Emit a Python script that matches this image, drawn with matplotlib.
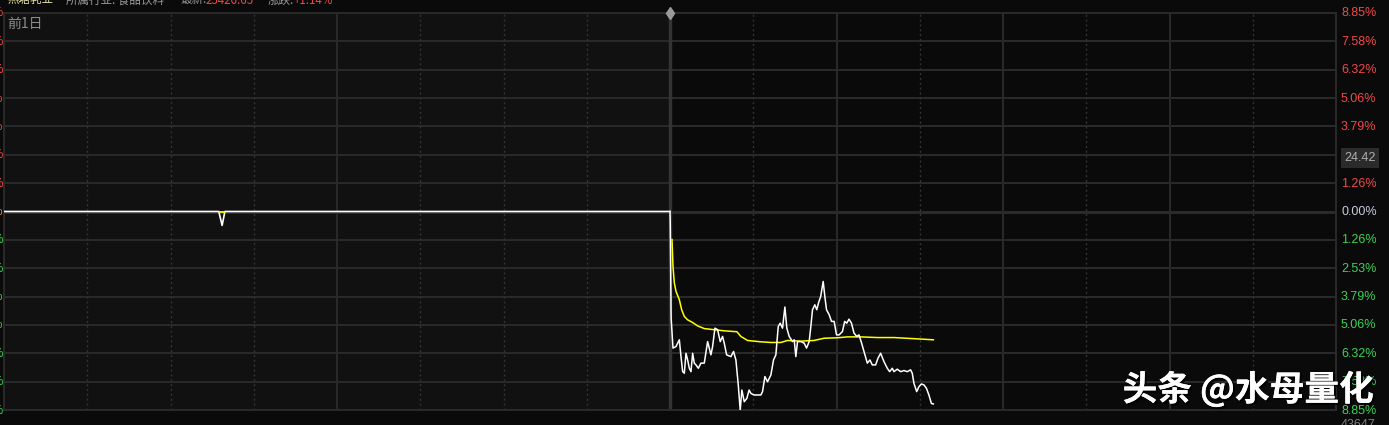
import matplotlib
matplotlib.use("Agg")
import matplotlib.pyplot as plt
import matplotlib.patheffects as pe
import numpy as np

W, H = 1389, 425

# previous trading day (minutes 0..240), percent change
prev_t = [0, 77.4, 78.6, 79.6, 240]
prev_pct = [0, 0, -0.62, 0, 0]
prev_avg_t = [77.9, 79.1]
prev_avg = [0, 0]

# today, minutes after open
today_t = [0.0, 0.1, 0.4, 1.08, 2.16, 3.36, 3.96, 4.56, 5.16, 5.76, 6.36, 6.96, 7.56, 8.16,
           8.76, 9.36, 10.2, 11.15, 12.35, 13.55, 14.75, 15.35, 16.19, 17.15, 18.1, 18.95,
           19.55, 20.4, 21.95, 22.9, 23.75, 24.6, 25.3, 25.9, 26.75, 27.7, 28.5, 29.15,
           30.3, 32.75, 33.35, 34.2, 35.15, 36.35, 37.3, 38.15, 39.0, 39.7, 40.55, 41.4,
           42.1, 42.95, 44.15, 44.75, 45.35, 45.95, 47.15, 48.35, 49.2, 50.15, 50.75,
           51.35, 52.2, 52.9, 53.5, 54.3, 55.2, 55.8, 56.4, 57.35, 58.2, 59.15, 60.0,
           60.95, 62.15, 62.95, 63.7, 64.5, 65.4, 66.3, 67.3, 68.1, 69.05, 69.9, 71.1,
           72.05, 72.9, 74.1, 74.95, 75.9, 77.1, 78.3, 79.15, 80.1, 80.7, 81.9, 83.1,
           84.3, 85.5, 86.7, 87.3, 87.9, 88.9, 89.7, 90.6, 91.5, 92.4, 93.3, 94.2, 94.9]
today_pct = [0.0, -0.63, -4.75, -6.09, -6.02, -5.72, -6.47, -7.14, -7.21, -6.32, -6.62,
             -6.99, -7.14, -6.32, -6.76, -6.84, -6.99, -6.76, -6.76, -5.80, -6.39, -6.02,
             -5.20, -5.27, -5.80, -5.57, -5.87, -6.39, -6.47, -6.24, -6.62, -7.73, -8.85,
             -7.96, -8.48, -8.33, -7.96, -8.11, -8.18, -8.18, -8.03, -7.36, -7.59, -7.29,
             -6.62, -6.39, -5.13, -4.98, -5.20, -4.26, -5.20, -5.57, -5.80, -5.72, -6.47,
             -5.80, -5.80, -5.87, -6.09, -5.80, -5.13, -4.38, -4.16, -4.38, -4.08, -3.79,
             -3.12, -3.79, -4.38, -4.60, -4.90, -4.90, -5.50, -5.50, -5.35, -4.90, -4.98,
             -4.80, -4.98, -5.42, -5.57, -5.50, -5.87, -6.24, -6.76, -6.62, -6.84, -6.84,
             -6.54, -6.32, -6.69, -6.99, -7.14, -6.99, -7.14, -7.03, -7.14, -7.09, -7.14,
             -7.06, -7.21, -7.66, -8.03, -7.81, -7.69, -7.73, -7.88, -8.18, -8.56, -8.58]

avg_t = [0.72, 1.08, 1.56, 2.16, 3.36, 4.2, 5.16, 6.36, 8.16, 9.95, 12.35, 15.95, 19.55,
         24.1, 25.55, 27.95, 32.75, 36.35, 39.95, 42.35, 47.15, 51.95, 55.55, 60.35,
         63.95, 68.7, 74.75, 80.7, 87.9, 94.9]
avg_pct = [-1.25, -2.45, -3.19, -3.56, -3.93, -4.38, -4.68, -4.83, -4.95, -5.10, -5.22,
           -5.27, -5.32, -5.36, -5.57, -5.75, -5.81, -5.84, -5.84, -5.75, -5.78, -5.75,
           -5.65, -5.63, -5.59, -5.59, -5.62, -5.62, -5.67, -5.72]

tick_labels = ["8.85%", "7.58%", "6.32%", "5.06%", "3.79%", "2.53%", "1.26%", "0.00%",
               "1.26%", "2.53%", "3.79%", "5.06%", "6.32%", "7.58%", "8.85%"]
limit = 8.85

RED = "#f04848"
GREEN = "#3ad255"
GRID = "#2a2a2a"


def fx(px):
    return px / W


def fy(py):
    return 1 - py / H


fig = plt.figure(figsize=(W / 100, H / 100), dpi=100, facecolor="#0a0a0a")
ax = fig.add_axes([fx(4), fy(410), fx(1336) - fx(4), fy(13) - fy(410)])
ax.set_facecolor("#0a0a0a")
ax.set_xlim(0, 480)
ax.set_ylim(-limit, limit)
ax.axvspan(0, 240, color="#111111", zorder=0)

levels = np.linspace(limit, -limit, 15)
for v in levels:
    ax.axhline(v, color=GRID, lw=2.2 if abs(v) < 1e-9 else 1.4, zorder=1)
for m in [30, 60, 90, 150, 180, 210, 270, 330, 390, 450]:
    ax.axvline(m, color="#333333", lw=1.0, ls=(0, (1.5, 2)), zorder=1)
for m in [120, 300, 360, 420]:
    ax.axvline(m, color=GRID, lw=1.4, zorder=1)
ax.axvline(240, color="#333333", lw=2.5, zorder=1)
for s in ax.spines.values():
    s.set_color(GRID)
    s.set_linewidth(1.4)
ax.set_xticks([])
ax.set_yticks([])

ax.plot(prev_t, prev_pct, color="white", lw=1.2, zorder=3)
ax.plot(prev_avg_t, prev_avg, color="#ffff00", lw=1.3, zorder=4)
ax.plot([240 + t for t in avg_t], avg_pct, color="#ffff00", lw=1.1, zorder=3)
ax.plot([240 + t for t in today_t], today_pct, color="white", lw=1.1, zorder=4)
ax.plot([240], [limit], marker="d", ms=6, color="#9a9a9a", clip_on=False, zorder=5)

# right and (clipped) left percentage labels
for v, lab in zip(levels, tick_labels):
    col = RED if v > 1e-9 else (GREEN if v < -1e-9 else "#c4cce0")
    ypix = 212 - v / limit * 198.5
    if lab != "2.53%" or v < 0:
        fig.text(fx(1341), fy(ypix), lab, color=col, fontsize=9,
                 family="Liberation Sans", ha="left", va="center")
    fig.text(fx(3.5), fy(ypix), lab, color=col if v != 0 else "#e08040", fontsize=9,
             family="Liberation Sans", ha="right", va="center")

fig.text(fx(1360), fy(158), "24.42", color="#b0b0b0", fontsize=9, family="Liberation Sans",
         ha="center", va="center",
         bbox=dict(boxstyle="square,pad=0.3", fc="#2b2b2b", ec="none"))
fig.text(fx(1341), fy(425), "43647", color="#808080", fontsize=9,
         family="Liberation Sans", ha="left", va="center")

# clipped header line
cjk = ["Noto Sans CJK SC", "DejaVu Sans"]
hdr = [(8, "燕塘乳业", "#e6e6a8"), (66, "所属行业: 食品饮料", "#9a9a9a"),
       (180, "最新:", "#9a9a9a"), (206, "25426.65", RED),
       (268, "涨跌:", "#9a9a9a"), (294, "+1.14%", RED)]
for x0, s, c in hdr:
    fig.text(fx(x0), fy(0), s, color=c, fontsize=8.3, family=cjk, va="center")

fig.text(fx(7), fy(24), "前1日", color="#8c8c8c", fontsize=10, family=cjk, va="center")

fig.text(fx(1374), fy(389), "头条 @水母量化", color="white", fontsize=25, family=cjk,
         fontweight="bold", ha="right", va="center",
         path_effects=[pe.withSimplePatchShadow(offset=(1.5, -1.5), shadow_rgbFace="black",
                                                alpha=0.9), pe.Normal()])

fig.savefig("out.png", dpi=100, facecolor=fig.get_facecolor())
